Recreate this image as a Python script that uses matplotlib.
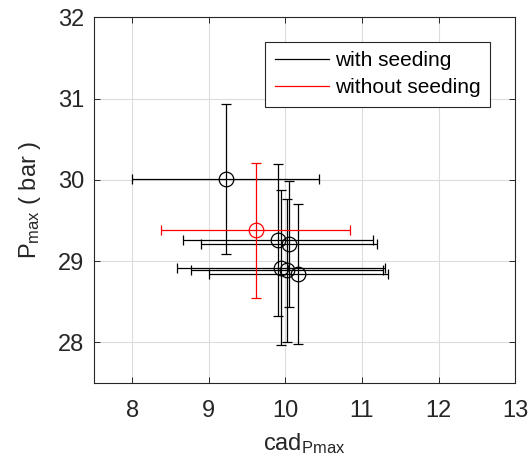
import matplotlib
matplotlib.use('Agg')
import matplotlib.pyplot as plt
from matplotlib.lines import Line2D

plt.rcParams['font.family'] = ['Liberation Sans', 'DejaVu Sans']
plt.rcParams['mathtext.fontset'] = 'custom'
plt.rcParams['mathtext.rm'] = 'Liberation Sans'

# with seeding
seed_x = [9.22, 9.90, 10.05, 9.94, 10.02, 10.17]
seed_y = [30.01, 29.26, 29.21, 28.92, 28.89, 28.84]
seed_xerr = [1.22, 1.24, 1.15, 1.36, 1.25, 1.17]
seed_yerr = [0.92, 0.93, 0.78, 0.95, 0.88, 0.86]

# without seeding
noseed_x = [9.61]
noseed_y = [29.38]
noseed_xerr = [1.24]
noseed_yerr = [0.83]

x_ticks = [8, 9, 10, 11, 12, 13]
y_ticks = [28, 29, 30, 31, 32]

txt = '#262626'

fig = plt.figure(figsize=(5.31, 4.71), dpi=100)
ax = fig.add_axes([0.177, 0.187, 0.793, 0.776])

ax.errorbar(seed_x, seed_y, xerr=seed_xerr, yerr=seed_yerr, fmt='o', color='black',
            mfc='none', mec='black', ms=10.5, mew=0.9, elinewidth=0.9, capsize=3.3,
            capthick=0.9)
ax.errorbar(noseed_x, noseed_y, xerr=noseed_xerr, yerr=noseed_yerr, fmt='o', color='red',
            mfc='none', mec='red', ms=10.5, mew=0.9, elinewidth=0.9, capsize=3.3,
            capthick=0.9)

ax.set_xlim(7.5, 13)
ax.set_ylim(27.5, 32)
ax.set_xticks(x_ticks)
ax.set_yticks(y_ticks)
ax.grid(True, color='#dcdcdc', linewidth=0.8)
ax.set_axisbelow(True)
ax.tick_params(direction='in', length=4, width=0.7, labelsize=17, top=True, right=True,
               color=txt, labelcolor=txt)
ax.tick_params(axis='x', pad=12)
ax.tick_params(axis='y', pad=7)
for s in ax.spines.values():
    s.set_color(txt)
    s.set_linewidth(0.8)

ax.set_xlabel(r'$\mathregular{cad_{Pmax}}$', fontsize=17, labelpad=7, color=txt)
ax.set_ylabel(r'$\mathregular{P_{max}}$ ( bar )', fontsize=17, labelpad=11, color=txt)

handles = [Line2D([], [], color='black', lw=0.9), Line2D([], [], color='red', lw=0.9)]
leg = ax.legend(handles, ['with seeding', 'without seeding'], loc='upper right',
                bbox_to_anchor=(0.941, 0.934), borderaxespad=0, fontsize=15,
                fancybox=False, framealpha=1, edgecolor=txt, handlelength=2.6,
                borderpad=0.45, labelspacing=0.4, handletextpad=0.3)
leg.get_frame().set_linewidth(0.8)

fig.savefig('out.png', dpi=100)
